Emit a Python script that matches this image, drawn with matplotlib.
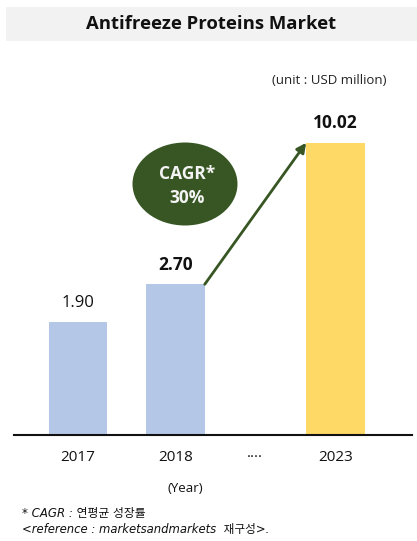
import matplotlib

matplotlib.use("Agg")
import matplotlib.pyplot as plt
import numpy as np
from matplotlib.patches import Ellipse, Rectangle

plt.rcParams["font.family"] = ["Open Sans", "Noto Sans CJK KR", "DejaVu Sans"]

# Market size, USD million
years = ["2017", "2018", "2023"]
values = [1.90, 2.70, 10.02]
bar_x = [0, 1, 2.64]
tick_x = [0, 1, 1.815, 2.64]
tick_labels = ["2017", "2018", "····", "2023"]
bar_colors = ["#b4c7e7", "#b4c7e7", "#ffd966"]
label_bold = [False, True, True]
cagr_lines = ["CAGR*", "30%"]

W, H = 417, 541
GREEN = "#375623"
BAR_W = 0.6
Y_FLOOR = 0.668


def fx(px):
    return px / W


def fy(py):
    return 1 - py / H


fig = plt.figure(figsize=(W / 100, H / 100), dpi=100)

# title band
fig.add_artist(Rectangle((fx(6), fy(41)), 1 - fx(6), (41 - 7) / H,
                         transform=fig.transFigure, color="#f2f2f2", lw=0))
fig.text(fx(211), fy(24), "Antifreeze Proteins Market", ha="center", va="center",
         fontsize=13.3, fontweight="bold", color="#111111")
fig.text(fx(386), fy(80), "(unit : USD million)", ha="right", va="center",
         fontsize=9.5, color="#222222")

ax = fig.add_axes([fx(14), (H - 435) / H, (412 - 14) / W, (435 - 60) / H])
ax.set_yscale("log")
ax.set_xlim(-(78 - 14) / 97.5, (412 - 78) / 97.5)
ax.set_ylim(Y_FLOOR, Y_FLOOR * np.exp((435 - 60) / 107.9))

heights = [v - Y_FLOOR for v in values]
ax.bar(bar_x, heights, bottom=Y_FLOOR, width=BAR_W, color=bar_colors, lw=0)

for x, v, bold in zip(bar_x, values, label_bold):
    ax.annotate(f"{v:.2f}", (x, v), xytext=(0, 14), textcoords="offset points",
                ha="center", va="center", fontsize=12.5 if bold else 12,
                fontweight="bold" if bold else "normal", color="#111111")

# growth arrow from the 2018 bar to the 2023 bar
ax.annotate("", xy=(bar_x[2] - BAR_W / 2, values[2]),
            xytext=(bar_x[1] + BAR_W / 2, values[1]),
            arrowprops=dict(arrowstyle="-|>", color=GREEN, lw=2,
                            mutation_scale=14, shrinkA=0, shrinkB=0))

for spine in ["left", "right", "top"]:
    ax.spines[spine].set_visible(False)
ax.spines["bottom"].set_color("#111111")
ax.spines["bottom"].set_linewidth(1.5)
ax.set_yticks([])
ax.minorticks_off()
ax.set_xticks(tick_x)
ax.set_xticklabels(tick_labels, fontsize=11, color="#111111")
ax.tick_params(axis="x", length=0, pad=11)

fig.add_artist(Ellipse((fx(185), fy(184)), 105 / W, 83 / H,
                       transform=fig.transFigure, color=GREEN, lw=0))
for line, py in zip(cagr_lines, [174, 198]):
    fig.text(fx(187), fy(py), line, ha="center", va="center", fontsize=12.5,
             fontweight="bold", color="#f4f4f4")

fig.text(fx(185), fy(489), "(Year)", ha="center", va="center",
         fontsize=9.5, color="#111111")

foot = ["DejaVu Sans", "Noto Sans CJK KR"]
fig.text(fx(22), fy(513), "* CAGR : 연평균 성장률", ha="left", va="center",
         fontsize=8.5, style="italic", family=foot, color="#111111")
fig.text(fx(22), fy(530), "<reference : marketsandmarkets  재구성>.", ha="left",
         va="center", fontsize=8.4, style="italic", family=foot, color="#111111")

fig.savefig("out.png", dpi=100)
